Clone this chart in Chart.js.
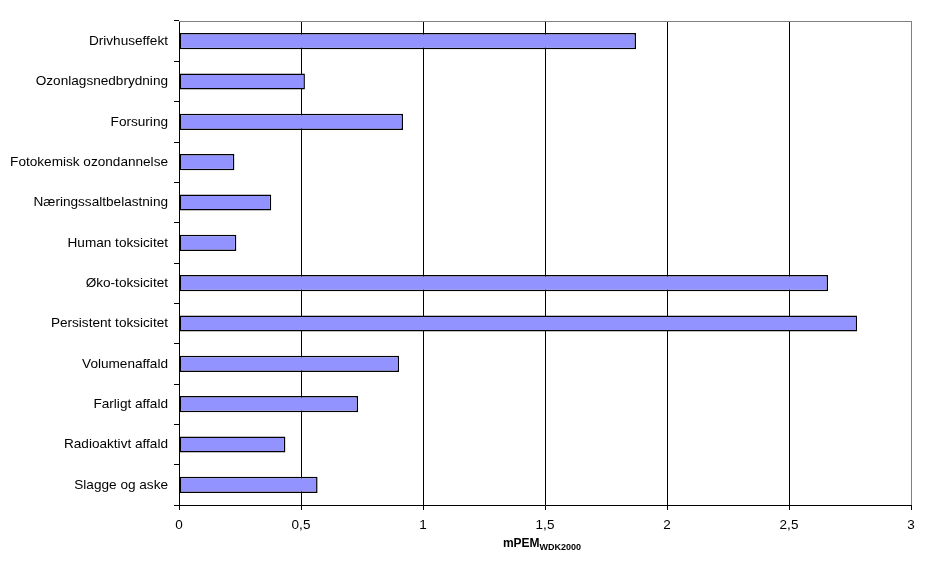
<!DOCTYPE html>
<html>
<head>
<meta charset="utf-8">
<script src="https://cdn.jsdelivr.net/npm/chart.js@4"></script>
<style>
  html, body { margin: 0; padding: 0; background: #fff; }
  #wrap { width: 926px; height: 574px; }
</style>
</head>
<body>
<div id="wrap"><canvas id="myChart" width="926" height="574"></canvas></div>
<script>
const categories = ['Drivhuseffekt', 'Ozonlagsnedbrydning', 'Forsuring', 'Fotokemisk ozondannelse',
    'Næringssaltbelastning', 'Human toksicitet', 'Øko-toksicitet', 'Persistent toksicitet',
    'Volumenaffald', 'Farligt affald', 'Radioaktivt affald', 'Slagge og aske'];
const values = [1.873, 0.516, 0.918, 0.227, 0.378, 0.235, 2.66, 2.779, 0.902, 0.734, 0.436, 0.568];
const xTicks = [0, 0.5, 1, 1.5, 2, 2.5, 3];
const axisTitle = 'mPEM';
const axisTitleSub = 'WDK2000';

const FONT = 'Liberation Sans, Arial, sans-serif';

// gray frame on top and right, subscript axis title below
const framePlugin = {
    id: 'frame',
    afterDraw(chart) {
        const { ctx, chartArea: a } = chart;
        ctx.save();
        ctx.strokeStyle = '#808080';
        ctx.lineWidth = 1;
        ctx.beginPath();
        ctx.moveTo(a.left, a.top + 0.5);
        ctx.lineTo(a.right + 0.5, a.top + 0.5);
        ctx.lineTo(a.right + 0.5, a.bottom);
        ctx.stroke();

        ctx.fillStyle = '#000';
        ctx.textBaseline = 'alphabetic';
        ctx.font = 'bold 12px ' + FONT;
        const w1 = ctx.measureText(axisTitle).width;
        ctx.font = 'bold 9px ' + FONT;
        const w2 = ctx.measureText(axisTitleSub).width;
        const x0 = (a.left + a.right) / 2 - (w1 + w2) / 2 - 3;
        const y0 = 547;
        ctx.font = 'bold 12px ' + FONT;
        ctx.fillText(axisTitle, x0, y0);
        ctx.font = 'bold 9px ' + FONT;
        ctx.fillText(axisTitleSub, x0 + w1, y0 + 3);
        ctx.restore();
    }
};

const ctx = document.getElementById('myChart').getContext('2d');
const myChart = new Chart(ctx, {
    type: 'bar',
    data: {
        labels: categories,
        datasets: [{
            data: values,
            backgroundColor: '#9393FF',
            borderColor: '#000000',
            borderWidth: 1.5,
            borderSkipped: false,
            barPercentage: 0.4,
            categoryPercentage: 1
        }]
    },
    options: {
        indexAxis: 'y',
        responsive: false,
        animation: false,
        layout: { padding: { top: 21, right: 15, left: 0, bottom: 0 } },
        plugins: {
            legend: { display: false },
            tooltip: { enabled: false }
        },
        scales: {
            x: {
                min: 0,
                max: 3,
                afterBuildTicks(scale) {
                    scale.ticks = xTicks.map(v => ({ value: v }));
                },
                afterFit(scale) { scale.height = 69; },
                grid: {
                    color: c => (c.tick && c.tick.value === 3 ? '#808080' : '#000000'),
                    tickColor: '#000000',
                    tickLength: 5,
                    lineWidth: 1
                },
                border: { color: '#000000' },
                ticks: {
                    color: '#000',
                    font: { family: FONT, size: 13.5 },
                    padding: 7,
                    maxRotation: 0,
                    callback: v => String(v).replace('.', ',')
                }
            },
            y: {
                afterFit(scale) { scale.width = 179; },
                grid: {
                    drawOnChartArea: false,
                    tickLength: 5,
                    color: '#000000'
                },
                border: { color: '#000000' },
                ticks: {
                    color: '#000',
                    font: { family: FONT, size: 13.6 },
                    padding: 6
                }
            }
        }
    },
    plugins: [framePlugin]
});
</script>
</body>
</html>
